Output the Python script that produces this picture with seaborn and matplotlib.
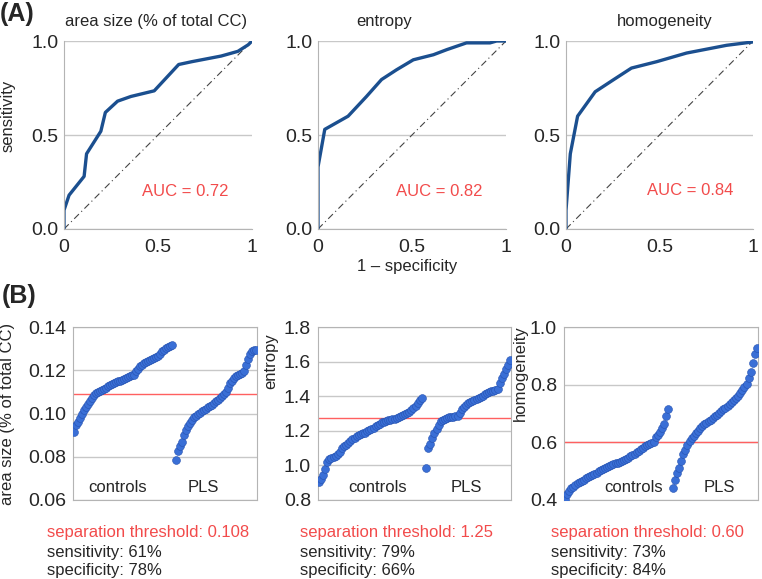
import numpy as np
import pandas as pd
import matplotlib
matplotlib.use("Agg")
import matplotlib.pyplot as plt
import seaborn as sns

# ROC curves (A)
area_fpr = [0, 0, 0.027, 0.107, 0.12, 0.196, 0.22, 0.285, 0.356, 0.48, 0.61, 0.68, 0.836, 0.925, 0.98, 1.0]
area_tpr = [0, 0.10, 0.18, 0.28, 0.40, 0.52, 0.62, 0.68, 0.705, 0.735, 0.875, 0.89, 0.92, 0.945, 0.98, 1.0]
entropy_fpr = [0, 0, 0.036, 0.16, 0.258, 0.338, 0.418, 0.507, 0.614, 0.685, 0.79, 0.915, 0.95, 1.0]
entropy_tpr = [0, 0.33, 0.53, 0.60, 0.705, 0.795, 0.847, 0.90, 0.927, 0.954, 0.99, 0.99, 1.0, 1.0]
homog_fpr = [0, 0, 0.023, 0.062, 0.156, 0.254, 0.35, 0.485, 0.645, 0.858, 1.0]
homog_tpr = [0, 0.10, 0.40, 0.60, 0.73, 0.794, 0.856, 0.89, 0.936, 0.977, 0.995]
auc_labels = ["AUC = 0.72", "AUC = 0.82", "AUC = 0.84"]
roc_titles = ["area size (% of total CC)", "entropy", "homogeneity"]

# sorted subject values (B)
area_ctrl = [0.0915, 0.0945, 0.0962, 0.0980, 0.0998, 0.1015, 0.1030, 0.1045, 0.1058, 0.1070,
             0.1085, 0.1095, 0.1100, 0.1104, 0.1109, 0.1113, 0.1120, 0.1128, 0.1133, 0.1137,
             0.1141, 0.1144, 0.1148, 0.1152, 0.1156, 0.1160, 0.1164, 0.1168, 0.1172, 0.1176,
             0.1180, 0.1195, 0.1208, 0.1218, 0.1225, 0.1232, 0.1238, 0.1242, 0.1247, 0.1252,
             0.1256, 0.1260, 0.1265, 0.1275, 0.1288, 0.1295, 0.1302, 0.1308, 0.1313, 0.1318]
area_pls = [0.0785, 0.0825, 0.0850, 0.0870, 0.0900, 0.0925, 0.0942, 0.0957, 0.0970, 0.0982,
            0.0990, 0.0997, 0.1004, 0.1010, 0.1016, 0.1022, 0.1028, 0.1034, 0.1041, 0.1049,
            0.1057, 0.1064, 0.1072, 0.1080, 0.1090, 0.1100, 0.1120, 0.1140, 0.1152, 0.1165,
            0.1175, 0.1180, 0.1184, 0.1187, 0.1195, 0.1225, 0.1250, 0.1275, 0.1290, 0.1294, 0.1295]
entropy_ctrl = [0.905, 0.920, 0.945, 0.980, 1.020, 1.035, 1.045, 1.050, 1.055, 1.065,
                1.080, 1.100, 1.110, 1.120, 1.130, 1.140, 1.150, 1.160, 1.168, 1.175,
                1.180, 1.185, 1.190, 1.198, 1.205, 1.212, 1.219, 1.226, 1.234, 1.241,
                1.248, 1.252, 1.256, 1.260, 1.264, 1.267, 1.271, 1.275, 1.279, 1.284,
                1.290, 1.296, 1.302, 1.310, 1.320, 1.330, 1.345, 1.362, 1.377, 1.388]
entropy_pls = [0.985, 1.100, 1.125, 1.160, 1.185, 1.210, 1.235, 1.255, 1.262, 1.268,
               1.273, 1.277, 1.279, 1.281, 1.284, 1.288, 1.305, 1.325, 1.340, 1.350,
               1.358, 1.366, 1.373, 1.379, 1.385, 1.391, 1.397, 1.402, 1.410, 1.418,
               1.424, 1.428, 1.432, 1.437, 1.442, 1.475, 1.505, 1.528, 1.555, 1.580, 1.612]
homog_ctrl = [0.405, 0.420, 0.432, 0.440, 0.446, 0.452, 0.458, 0.463, 0.467, 0.471,
              0.475, 0.479, 0.483, 0.487, 0.491, 0.495, 0.499, 0.503, 0.507, 0.511,
              0.515, 0.518, 0.521, 0.524, 0.527, 0.530, 0.532, 0.535, 0.538, 0.542,
              0.546, 0.551, 0.556, 0.561, 0.566, 0.571, 0.576, 0.581, 0.586, 0.590,
              0.594, 0.598, 0.602, 0.618, 0.625, 0.635, 0.648, 0.665, 0.690, 0.715]
homog_pls = [0.442, 0.470, 0.492, 0.510, 0.535, 0.560, 0.575, 0.590, 0.603, 0.614,
             0.623, 0.632, 0.640, 0.648, 0.655, 0.663, 0.668, 0.673, 0.678, 0.684,
             0.690, 0.696, 0.702, 0.708, 0.714, 0.720, 0.727, 0.734, 0.740, 0.746,
             0.753, 0.762, 0.772, 0.782, 0.792, 0.802, 0.822, 0.845, 0.875, 0.905, 0.928]
thresholds = [0.1088, 1.276, 0.600]
thresh_labels = ["separation threshold: 0.108", "separation threshold: 1.25", "separation threshold: 0.60"]
sens_labels = ["sensitivity: 61%", "sensitivity: 79%", "sensitivity: 73%"]
spec_labels = ["specificity: 78%", "specificity: 66%", "specificity: 84%"]
scatter_ylabels = ["area size (% of total CC)", "entropy", "homogeneity"]
y_ranges = [(0.06, 0.14, 0.02, "%.2f"), (0.8, 1.8, 0.2, "%.1f"), (0.4, 1.0, 0.2, "%.1f")]

sns.set_style("white")
plt.rcParams['font.family'] = ['Liberation Sans', 'DejaVu Sans']

W, H = 762, 579
fig = plt.figure(figsize=(W / 100, H / 100), dpi=100)


def add_px_axes(x0, y0, x1, y1):
    return fig.add_axes([x0 / W, 1 - y1 / H, (x1 - x0) / W, (y1 - y0) / H])


grid_c = "#c8c8c8"
spine_c = "#b4b4b4"
red = "#f24b4b"
blue_line = "#1b4f8f"

# ---- (A) ROC curves
top_boxes = [(64, 41, 252, 229), (318, 41, 506, 229), (566, 41, 753, 229)]
rocs = [(area_fpr, area_tpr), (entropy_fpr, entropy_tpr), (homog_fpr, homog_tpr)]
title_x = [0.49, 0.35, 0.53]
auc_pos = [(0.646, 0.197), (0.644, 0.197), (0.666, 0.204)]
for i, box in enumerate(top_boxes):
    ax = add_px_axes(*box)
    fpr, tpr = rocs[i]
    ax.plot([0, 1], [0, 1], color="#444444", lw=0.8, ls=(0, (6, 3, 1, 3)))
    sns.lineplot(x=fpr, y=tpr, ax=ax, sort=False, estimator=None,
                 color=blue_line, lw=2.4)
    ax.set_xlim(0, 1)
    ax.set_ylim(0, 1)
    ax.set_xticks([0, 0.5, 1])
    ax.set_xticklabels(["0", "0.5", "1"])
    ax.set_yticks([0, 0.5, 1])
    ax.set_yticklabels(["0.0", "0.5", "1.0"])
    ax.tick_params(length=0, labelsize=14, pad=4)
    ax.tick_params(axis="x", pad=7)
    ax.yaxis.grid(True, color=grid_c, lw=1)
    ax.set_axisbelow(True)
    for s in ["top", "right"]:
        ax.spines[s].set_visible(False)
    for s in ["left", "bottom"]:
        ax.spines[s].set_color(spine_c)
    ax.text(title_x[i], 1.106, roc_titles[i], transform=ax.transAxes,
            ha="center", va="center", fontsize=12)
    ax.text(auc_pos[i][0], auc_pos[i][1], auc_labels[i], transform=ax.transAxes,
            ha="center", va="center", fontsize=12, color=red)
    if i == 0:
        ax.set_ylabel("sensitivity", fontsize=12)
        ax.yaxis.set_label_coords(-0.26, 0.6)

fig.text(407 / W, 1 - 266 / H, "1 \u2013 specificity", ha="center", va="center", fontsize=12)

# ---- (B) sorted values
bot_boxes = [(73, 327, 257, 500), (318, 327, 511, 500), (564, 327, 758, 500)]
groups = [(area_ctrl, area_pls), (entropy_ctrl, entropy_pls), (homog_ctrl, homog_pls)]
label_coords = [(-0.315, 0.5, "center"), (-0.207, 0.965, "top"), (-0.186, 1.01, "top")]
grp_text_x = [(0.24, 0.71), (0.31, 0.77), (0.36, 0.80)]
text_x = [47, 300, 551]
for i, box in enumerate(bot_boxes):
    ax = add_px_axes(*box)
    ctrl, pls = groups[i]
    n = len(ctrl)
    df = pd.DataFrame({
        "idx": list(range(n)) + list(range(n + 1, n + 1 + len(pls))),
        "value": ctrl + pls,
        "group": ["controls"] * n + ["PLS"] * len(pls),
    })
    ax.axhline(thresholds[i], color="#ff6060", lw=1, zorder=1.5)
    sns.scatterplot(data=df, x="idx", y="value", ax=ax, s=32, color="#3a6fd6",
                    edgecolor="#2551b0", linewidth=0.4, zorder=3, legend=False)
    lo, hi, step, fmt = y_ranges[i]
    ticks = np.arange(lo, hi + step / 2, step)
    ax.set_ylim(lo, hi)
    ax.set_yticks(ticks)
    ax.set_yticklabels([fmt % t for t in ticks])
    ax.set_xlim(-0.4, len(df) + 0.4)
    ax.set_xticks([])
    ax.set_xlabel("")
    ax.tick_params(length=0, labelsize=14, pad=5)
    ax.yaxis.grid(True, color=grid_c, lw=1)
    ax.set_axisbelow(True)
    for s in ax.spines.values():
        s.set_color(spine_c)
    lx, ly, loc = label_coords[i]
    ax.set_ylabel(scatter_ylabels[i], fontsize=12, loc=loc)
    ax.yaxis.set_label_coords(lx, ly)
    ax.text(grp_text_x[i][0], 0.075, "controls", transform=ax.transAxes,
            ha="center", va="center", fontsize=12)
    ax.text(grp_text_x[i][1], 0.075, "PLS", transform=ax.transAxes,
            ha="center", va="center", fontsize=12)
    fig.text(text_x[i] / W, 1 - 532 / H, thresh_labels[i], color=red,
             ha="left", va="center", fontsize=12)
    fig.text(text_x[i] / W, 1 - 552 / H, sens_labels[i],
             ha="left", va="center", fontsize=12)
    fig.text(text_x[i] / W, 1 - 570 / H, spec_labels[i],
             ha="left", va="center", fontsize=12)

fig.text(17 / W, 1 - 14 / H, "(A)", ha="center", va="center", fontsize=18, fontweight="bold")
fig.text(19 / W, 1 - 296 / H, "(B)", ha="center", va="center", fontsize=18, fontweight="bold")

fig.savefig("out.png", dpi=100)
